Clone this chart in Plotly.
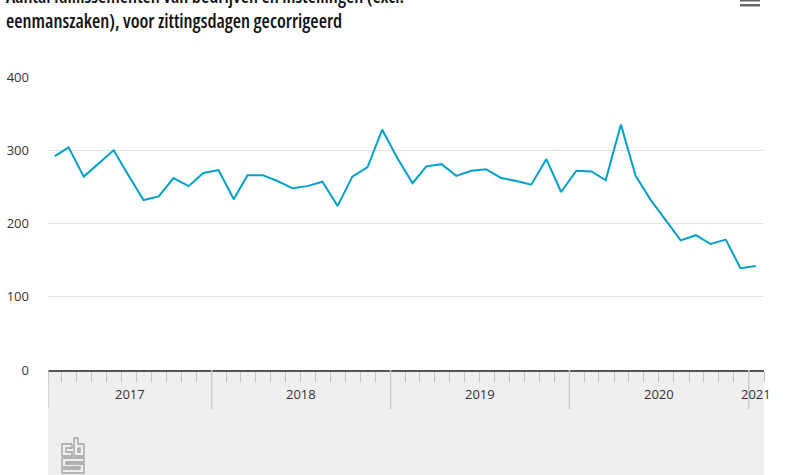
import plotly.graph_objects as go
import pandas as pd

# ---- data ----
years = [2017, 2018, 2019, 2020, 2021]
start_month = "2017-02"
values = [292, 304, 264, 282, 300, 266, 232, 237, 262, 251, 269, 273,
          233, 266, 266, 258, 248, 251, 257, 224, 264, 277, 328, 289,
          255, 278, 281, 265, 272, 274, 262, 258, 253, 288, 243, 272,
          271, 259, 335, 265, 232, 205, 177, 184, 172, 178, 139, 142]
y_ticks = [0, 100, 200, 300, 400]
title_lines = ["Aantal faillissementen van bedrijven en instellingen (excl.",
               "eenmanszaken), voor zittingsdagen gecorrigeerd"]

months = pd.period_range(start_month, periods=len(values), freq="M")
dates = [p.start_time + pd.Timedelta(days=14) for p in months]
x_start = months[0].start_time
x_end = (months[-1] + 1).start_time

W, H = 800, 475
L, R, T, B = 48, 36, 77, 105
PW, PH = W - L - R, H - T - B

def px(x):
    return (x - L) / PW

def py(y):
    return (H - B - y) / PH

LINE = "#00a1cd"
TXT = "#333333"

fig = go.Figure()
fig.add_trace(go.Scatter(x=dates, y=values, mode="lines",
                         line=dict(color=LINE, width=2), hoverinfo="x+y",
                         showlegend=False))

shapes = []
shapes.append(dict(type="rect", xref="paper", yref="paper", x0=0, x1=1,
                   y0=py(H + 5), y1=0, fillcolor="#efefef", line_width=0,
                   layer="below"))
bounds = [x_start] + [pd.Timestamp(f"{yr}-01-01") for yr in years
                      if x_start < pd.Timestamp(f"{yr}-01-01") < x_end]
for b in bounds:
    shapes.append(dict(type="line", xref="x", yref="paper", x0=b, x1=b,
                       y0=0, y1=py(409), line=dict(color="#cccccc", width=1.5)))
for y0, y1 in [(-1, 1.5), (4, 6.5)]:
    shapes.append(dict(type="rect", xref="paper", yref="paper",
                       x0=px(740), x1=px(760), y0=py(y1), y1=py(y0),
                       fillcolor="#666666", line_width=0))

def pth(points):
    return "M " + " L ".join(f"{px(a)},{py(b)}" for a, b in points)
logo = "#a0a0a0"
c_pts = [(72, 444), (62, 444), (62, 456), (72, 456), (72, 452), (66, 452),
         (66, 448), (72, 448), (72, 444)]
b_pts = [(74, 438), (78, 438), (78, 444), (84, 444), (84, 456), (74, 456), (74, 438)]
b_in = [(78, 448), (80, 448), (80, 452), (78, 452), (78, 448)]
s_pts = [(62, 458), (84, 458), (84, 462), (66, 462), (66, 464), (84, 464),
         (84, 473), (62, 473), (62, 469), (80, 469), (80, 467), (62, 467), (62, 458)]
for pts in [c_pts, b_pts, b_in, s_pts]:
    shapes.append(dict(type="path", xref="paper", yref="paper", path=pth(pts),
                       line=dict(color=logo, width=1.3)))

annotations = []
for yr in years:
    a = max(x_start, pd.Timestamp(f"{yr}-01-01"))
    b = min(x_end, pd.Timestamp(f"{yr + 1}-01-01"))
    if a >= b:
        continue
    mid = a + (b - a) / 2
    annotations.append(dict(x=mid, xref="x", y=py(394), yref="paper",
                            text=str(yr), showarrow=False, xanchor="center",
                            yanchor="middle",
                            font=dict(family="Open Sans", size=13, color=TXT)))
for line, ypos in zip(title_lines, [-4, 21]):
    annotations.append(dict(x=px(4), xref="paper", y=py(ypos), yref="paper",
                            text=line, showarrow=False, xanchor="left",
                            yanchor="middle",
                            font=dict(family="Open Sans", size=19,
                                      color="#111111", weight=600)))

fig.update_layout(
    width=W, height=H,
    margin=dict(l=L, r=R, t=T, b=B, autoexpand=False),
    paper_bgcolor="white", plot_bgcolor="white",
    shapes=shapes, annotations=annotations,
    xaxis=dict(type="date", range=[x_start, x_end], showgrid=False,
               ticks="outside", tick0=x_start, dtick="M1", ticklen=10,
               tickcolor="#c4c4c4", tickwidth=1, showticklabels=False,
               showline=True, linecolor="#555555", linewidth=2,
               zeroline=False, fixedrange=True),
    yaxis=dict(range=[0, 400], tickvals=y_ticks, showgrid=True,
               gridcolor="#e3e3e3", gridwidth=1, zeroline=False,
               ticks="", ticklabelstandoff=18,
               tickfont=dict(family="Open Sans", size=13, color=TXT),
               fixedrange=True),
    font=dict(family="Open Sans", color=TXT),
)

post = """
document.querySelectorAll('.annotation-text').forEach(function(t){
  if (t.textContent.length > 20) {
    var before = t.getBoundingClientRect().left;
    t.style.fontStretch = '75%';
    var after = t.getBoundingClientRect().left;
    t.style.transform = 'translate(' + (before - after) + 'px, 0px)';
  }
});
"""
fig.write_html("out.html", post_script=post)
